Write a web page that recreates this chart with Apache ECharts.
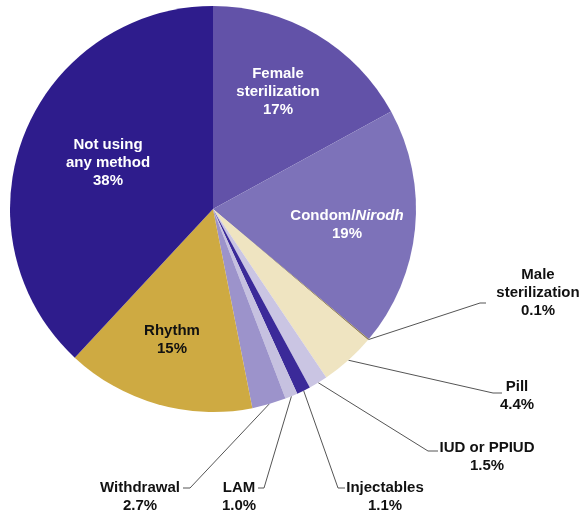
<!DOCTYPE html>
<html>
<head>
<meta charset="utf-8">
<script src="https://cdn.jsdelivr.net/npm/echarts@6/dist/echarts.min.js"></script>
<style>
html,body{margin:0;padding:0;background:#fff;}
#chart{width:581px;height:514px;}
</style>
</head>
<body>
<div id="chart"></div>
<script>
// Data
const categories = ['Female\nsterilization', 'Condom/{i|Nirodh}', 'Male\nsterilization', 'Pill', 'IUD or PPIUD', 'Injectables', 'LAM', 'Withdrawal', 'Rhythm', 'Not using\nany method'];
const values = [17, 19, 0.1, 4.4, 1.5, 1.1, 1.0, 2.7, 15, 38];
const valueLabels = ['17%', '19%', '0.1%', '4.4%', '1.5%', '1.1%', '1.0%', '2.7%', '15%', '38%'];

// Styling / layout
const colors = ['#6252A8', '#7D72B9', '#8E7B4F', '#EFE4C1', '#CAC5E3', '#3B2A99', '#C6C1E0', '#9C93CB', '#CEAA42', '#2E1C8C'];
const insideIdx = [0, 1, 8, 9];
const labelColors = ['#fff', '#fff', '#111', '#111', '#111', '#111', '#111', '#111', '#111', '#fff'];
// label block centers (x, y)
const labelPos = [[278, 92], [347, 225], [538, 293], [517, 396], [487, 457], [385, 497], [239, 497], [140, 497], [172, 340], [108, 163]];
// leader line bends (elbow, end)
const linePts = {
  2: [[480, 303], [486, 303]],
  3: [[493, 393], [502, 393]],
  4: [[428, 451], [438, 451]],
  5: [[338, 488], [345, 488]],
  6: [[264, 488], [258, 488]],
  7: [[190, 488], [183, 488]]
};

const font = '"Liberation Sans", Arial, sans-serif';
const data = values.map((v, i) => {
  const inside = insideIdx.indexOf(i) >= 0;
  return {
    name: categories[i],
    value: v,
    itemStyle: { color: colors[i] },
    label: {
      show: true,
      position: inside ? 'inside' : 'outside',
      formatter: categories[i] + '\n' + valueLabels[i],
      color: labelColors[i],
      rich: { i: { fontStyle: 'italic', fontWeight: 'bold', fontSize: 15, color: labelColors[i], fontFamily: font } }
    },
    labelLine: { show: !inside }
  };
});

const chart = echarts.init(document.getElementById('chart'), null, { renderer: 'canvas' });
chart.setOption({
  backgroundColor: '#fff',
  animation: false,
  series: [{
    type: 'pie',
    center: [213, 209],
    radius: [0, 203],
    startAngle: 90,
    clockwise: true,
    avoidLabelOverlap: false,
    minShowLabelAngle: 0,
    itemStyle: { borderWidth: 0 },
    emphasis: { disabled: true },
    label: {
      fontFamily: font,
      fontWeight: 'bold',
      fontSize: 15,
      lineHeight: 18,
      align: 'center'
    },
    labelLine: {
      lineStyle: { color: '#555', width: 1 },
      length: 20,
      length2: 8,
      smooth: false
    },
    labelLayout: function (p) {
      const i = p.dataIndex;
      const out = { x: labelPos[i][0], y: labelPos[i][1], align: 'center', verticalAlign: 'middle' };
      if (linePts[i] && p.labelLinePoints) {
        out.labelLinePoints = [p.labelLinePoints[0], linePts[i][0], linePts[i][1]];
      }
      return out;
    },
    data: data
  }]
});
</script>
</body>
</html>
